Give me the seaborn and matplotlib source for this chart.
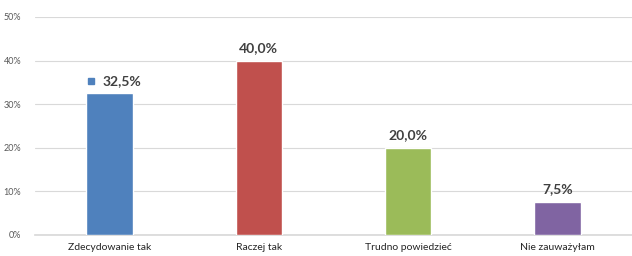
import matplotlib
matplotlib.use("Agg")
import matplotlib.pyplot as plt
import seaborn as sns
import pandas as pd
from matplotlib.ticker import FuncFormatter

categories = ["Zdecydowanie tak", "Raczej tak", "Trudno powiedzieć", "Nie zauważyłam"]
values = [32.5, 40.0, 20.0, 7.5]
labels = ["32,5%", "40,0%", "20,0%", "7,5%"]
colors = ["#4F81BD", "#C0504D", "#9BBB59", "#8064A2"]

sns.set_theme(style="white")
plt.rcParams['font.family'] = ['Lato', 'DejaVu Sans']

df = pd.DataFrame({"cat": categories, "val": values})

fig = plt.figure(figsize=(6.32, 2.56), dpi=100)
ax = fig.add_axes([35/632, 1-235/256, 597/632, (235-17)/256])

sns.barplot(data=df, x="cat", y="val", hue="cat", palette=colors, legend=False,
            width=0.31, ax=ax, saturation=1, zorder=3)

ax.set_ylim(0, 50)
ax.set_xlim(-0.5, 3.5)
ax.set_yticks([0, 10, 20, 30, 40, 50])
ax.yaxis.set_major_formatter(FuncFormatter(lambda v, p: f"{int(v)}%"))
ax.grid(axis="y", color="#D9D9D9", linewidth=0.8, zorder=0)
for s in ["top", "right", "left"]:
    ax.spines[s].set_visible(False)
ax.spines["bottom"].set_color("#D9D9D9")
ax.tick_params(axis="y", labelsize=6.5, labelcolor="#595959", length=0, pad=10)
ax.tick_params(axis="x", labelsize=7.5, labelcolor="#262626", length=0, pad=6)
ax.set_xlabel("")
ax.set_ylabel("")

for i, (v, lab) in enumerate(zip(values, labels)):
    if i == 0:
        ax.text(-0.05, v + 2.7, lab, ha="left", va="center", fontsize=10,
                fontweight="bold", color="#404040")
    else:
        ax.text(i, v + 1.6, lab, ha="center", va="bottom", fontsize=10,
                fontweight="bold", color="#404040")

# small legend-key square next to first label
ax.plot([-0.125], [values[0] + 2.8], marker="s", markersize=5,
        color=colors[0], linestyle="none", zorder=4)

fig.savefig("out.png", dpi=100)
